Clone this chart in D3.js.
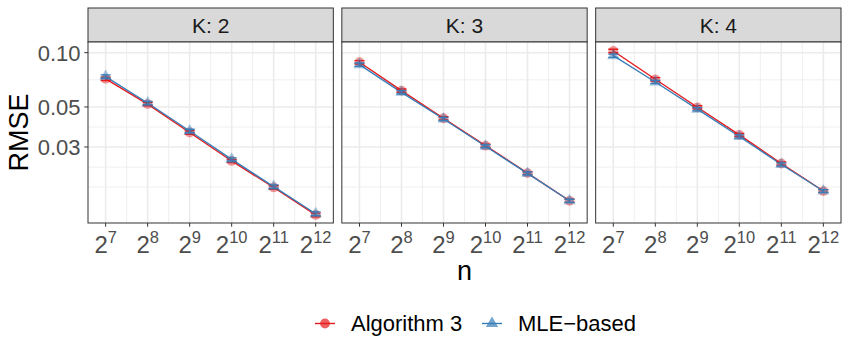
<!DOCTYPE html>
<html>
<head>
<meta charset="utf-8">
<script src="https://cdn.jsdelivr.net/npm/d3@7"></script>
<style>
  body { margin: 0; background: #fff; }
  text { font-family: "Liberation Sans", Arial, sans-serif; }
</style>
</head>
<body>
<div id="visual"></div>
<script>
// n = 2^exp
var nExp = [7, 8, 9, 10, 11, 12];
var kValues = [2, 3, 4];
var yTicks = [0.03, 0.05, 0.10];
var yMinor = [0.0232, 0.0387, 0.0707, 0.018];

// RMSE, Algorithm 3
var algK2 = [0.0716, 0.0519, 0.0361, 0.0251, 0.0179, 0.0126];
var algK3 = [0.0885, 0.0616, 0.0433, 0.0305, 0.0215, 0.0151];
var algK4 = [0.1022, 0.0712, 0.0498, 0.0350, 0.0243, 0.0171];
// RMSE, MLE-based
var mleK2 = [0.0737, 0.0526, 0.0368, 0.0256, 0.0181, 0.0128];
var mleK3 = [0.0858, 0.0603, 0.0429, 0.0303, 0.0214, 0.0151];
var mleK4 = [0.0962, 0.0688, 0.0486, 0.0343, 0.0240, 0.0171];
// error bar half widths
var algErrK2 = [0.0016, 0.0011, 0.0008, 0.0005, 0.0004, 0.0003];
var algErrK3 = [0.0019, 0.0013, 0.0009, 0.0006, 0.0004, 0.0003];
var algErrK4 = [0.0022, 0.0015, 0.0010, 0.0007, 0.0005, 0.0003];
var mleErrK2 = [0.0016, 0.0011, 0.0008, 0.0005, 0.0004, 0.0003];
var mleErrK3 = [0.0018, 0.0013, 0.0009, 0.0006, 0.0004, 0.0003];
var mleErrK4 = [0.0020, 0.0014, 0.0010, 0.0007, 0.0005, 0.0003];

var algByK = [algK2, algK3, algK4];
var mleByK = [mleK2, mleK3, mleK4];
var algErrByK = [algErrK2, algErrK3, algErrK4];
var mleErrByK = [mleErrK2, mleErrK3, mleErrK4];

var red = "#E41A1C", blue = "#377EB8";
var width = 850, height = 350;
var left = 88, right = 841, gap = 8.5;
var stripTop = 8, plotTop = 42, plotBottom = 223;
var panelW = (right - left - 2 * gap) / 3;

var svg = d3.select("#visual").append("svg")
  .attr("width", width)
  .attr("height", height);

var y = d3.scaleLog().domain([0.01137, 0.1146]).range([plotBottom, plotTop]);

kValues.forEach(function(k, p) {
  var x0 = left + p * (panelW + gap);
  var x = d3.scaleLinear().domain([6.58, 12.42]).range([x0, x0 + panelW]);
  var g = svg.append("g").attr("class", "panel");

  // strip
  g.append("rect")
    .attr("x", x0).attr("y", stripTop)
    .attr("width", panelW).attr("height", plotTop - stripTop)
    .attr("fill", "#D9D9D9").attr("stroke", "#333333").attr("stroke-width", 1);
  g.append("text")
    .attr("x", x0 + panelW / 2).attr("y", 32.5)
    .attr("text-anchor", "middle")
    .attr("font-size", 21).attr("fill", "#1A1A1A")
    .text("K: " + k);

  g.append("rect")
    .attr("x", x0).attr("y", plotTop)
    .attr("width", panelW).attr("height", plotBottom - plotTop)
    .attr("fill", "#fff");

  // grid
  var xMinor = nExp.slice(1).map(function(e) { return e - 0.5; });
  g.selectAll(".ymin").data(yMinor).enter().append("line")
    .attr("x1", x0).attr("x2", x0 + panelW)
    .attr("y1", function(d) { return y(d); }).attr("y2", function(d) { return y(d); })
    .attr("stroke", "#EBEBEB").attr("stroke-width", 0.8);
  g.selectAll(".xmin").data(xMinor).enter().append("line")
    .attr("y1", plotTop).attr("y2", plotBottom)
    .attr("x1", function(d) { return x(d); }).attr("x2", function(d) { return x(d); })
    .attr("stroke", "#EBEBEB").attr("stroke-width", 0.8);
  g.selectAll(".ymaj").data(yTicks).enter().append("line")
    .attr("x1", x0).attr("x2", x0 + panelW)
    .attr("y1", function(d) { return y(d); }).attr("y2", function(d) { return y(d); })
    .attr("stroke", "#EBEBEB").attr("stroke-width", 1.6);
  g.selectAll(".xmaj").data(nExp).enter().append("line")
    .attr("y1", plotTop).attr("y2", plotBottom)
    .attr("x1", function(d) { return x(d); }).attr("x2", function(d) { return x(d); })
    .attr("stroke", "#EBEBEB").attr("stroke-width", 1.6);

  // series
  var series = [
    { vals: algByK[p], err: algErrByK[p], color: red, shape: d3.symbolCircle },
    { vals: mleByK[p], err: mleErrByK[p], color: blue, shape: d3.symbolTriangle }
  ];
  var line = d3.line()
    .x(function(d, i) { return x(nExp[i]); })
    .y(function(d) { return y(d); });

  series.forEach(function(s) {
    g.append("path")
      .attr("d", line(s.vals))
      .attr("fill", "none").attr("stroke", s.color).attr("stroke-width", 1.4);
  });
  series.forEach(function(s) {
    var eb = g.append("g");
    s.vals.forEach(function(v, i) {
      var cx = x(nExp[i]);
      var lo = y(v - s.err[i]), hi = y(v + s.err[i]);
      eb.append("path")
        .attr("d", "M" + (cx - 5) + "," + hi + "H" + (cx + 5) +
                   "M" + cx + "," + hi + "V" + lo +
                   "M" + (cx - 5) + "," + lo + "H" + (cx + 5))
        .attr("fill", "none").attr("stroke", s.color).attr("stroke-width", 1.4);
    });
    g.selectAll(null).data(s.vals).enter().append("path")
      .attr("d", d3.symbol().type(s.shape).size(s.shape === d3.symbolCircle ? 75 : 65))
      .attr("transform", function(d, i) { return "translate(" + x(nExp[i]) + "," + y(d) + ")"; })
      .attr("fill", s.color).attr("fill-opacity", 0.45);
  });

  // border
  g.append("rect")
    .attr("x", x0).attr("y", plotTop)
    .attr("width", panelW).attr("height", plotBottom - plotTop)
    .attr("fill", "none").attr("stroke", "#333333").attr("stroke-width", 1);

  // x ticks
  var xt = g.selectAll(".xt").data(nExp).enter().append("g")
    .attr("transform", function(d) { return "translate(" + x(d) + "," + plotBottom + ")"; });
  xt.append("line").attr("y1", 0).attr("y2", 3.7).attr("stroke", "#333333");
  var lab = xt.append("text")
    .attr("y", 30).attr("text-anchor", "middle").attr("fill", "#4D4D4D");
  lab.append("tspan").attr("font-size", 24).text("2");
  lab.append("tspan").attr("font-size", 16.5).attr("dy", -10).text(function(d) { return d; });

  // y axis on first panel only
  if (p === 0) {
    var yt = g.selectAll(".yt").data(yTicks).enter().append("g")
      .attr("transform", function(d) { return "translate(" + x0 + "," + y(d) + ")"; });
    yt.append("line").attr("x1", -3.7).attr("x2", 0).attr("stroke", "#333333");
    yt.append("text")
      .attr("x", -7.5).attr("dy", "0.36em")
      .attr("text-anchor", "end").attr("font-size", 22).attr("fill", "#4D4D4D")
      .text(function(d) { return d3.format(".2f")(d); });
  }
});

// axis titles
svg.append("text")
  .attr("transform", "translate(28," + ((plotTop + plotBottom) / 2) + ") rotate(-90)")
  .attr("text-anchor", "middle").attr("font-size", 27).attr("fill", "#000")
  .text("RMSE");
svg.append("text")
  .attr("x", (left + right) / 2).attr("y", 280)
  .attr("text-anchor", "middle").attr("font-size", 27).attr("fill", "#000")
  .text("n");

// legend
var legendData = [
  { label: "Algorithm 3", color: red, shape: d3.symbolCircle, cx: 325 },
  { label: "MLE\u2212based", color: blue, shape: d3.symbolTriangle, cx: 492 }
];
var legend = svg.selectAll(".legendItem").data(legendData).enter().append("g")
  .attr("transform", function(d) { return "translate(" + d.cx + ",323.5)"; });
legend.append("line")
  .attr("x1", -10).attr("x2", 10)
  .attr("stroke", function(d) { return d.color; }).attr("stroke-width", 1.4);
legend.append("path")
  .attr("d", function(d) { return d3.symbol().type(d.shape).size(d.shape === d3.symbolCircle ? 75 : 65)(); })
  .attr("fill", function(d) { return d.color; }).attr("fill-opacity", 0.7);
legend.append("text")
  .attr("x", 26).attr("dy", "0.36em")
  .attr("font-size", 22).attr("fill", "#000")
  .text(function(d) { return d.label; });
</script>
</body>
</html>
